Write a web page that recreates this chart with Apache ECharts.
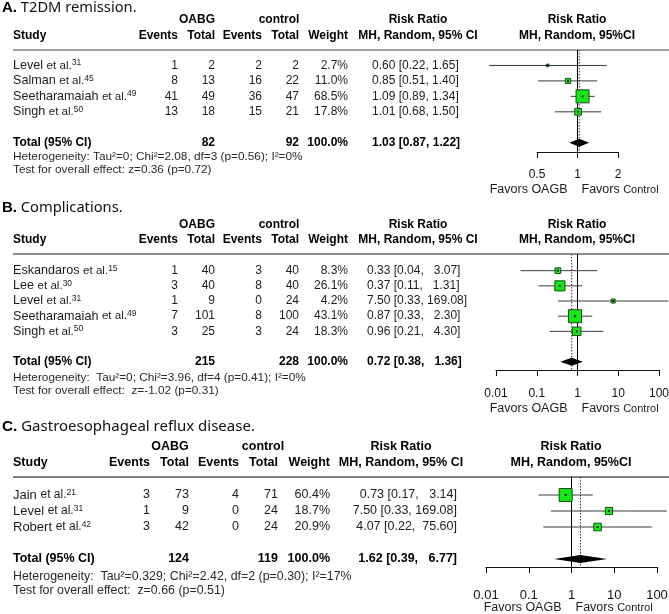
<!DOCTYPE html>
<html><head><meta charset="utf-8">
<script src="https://cdn.jsdelivr.net/npm/echarts@6/dist/echarts.min.js"></script>
<style>html,body{margin:0;padding:0;background:#fff}#c{width:669px;height:614px}</style>
</head><body><div id="c"></div>
<script>
// ---------- Panel A: T2DM remission ----------
const studiesA = ['Level', 'Salman', 'Seetharamaiah', 'Singh'];
const refsA = ['31', '45', '49', '50'];
const eventsOabgA = [1, 8, 41, 13];
const totalOabgA = [2, 13, 49, 18];
const eventsCtrlA = [2, 16, 36, 15];
const totalCtrlA = [2, 22, 47, 21];
const weightA = [2.7, 11.0, 68.5, 17.8];
const rrA = [0.60, 0.85, 1.09, 1.01];
const lowerA = [0.22, 0.51, 0.89, 0.68];
const upperA = [1.65, 1.40, 1.34, 1.50];
const pooledA = [1.03, 0.87, 1.22];
const pooledTotalsA = [82, 92];
const hetA = 'Heterogeneity: Tau²=0; Chi²=2.08, df=3 (p=0.56); I²=0%';
const testA = 'Test for overall effect: z=0.36 (p=0.72)';
const ticksA = [0.5, 1, 2];

// ---------- Panel B: Complications ----------
const studiesB = ['Eskandaros', 'Lee', 'Level', 'Seetharamaiah', 'Singh'];
const refsB = ['15', '30', '31', '49', '50'];
const eventsOabgB = [1, 3, 1, 7, 3];
const totalOabgB = [40, 40, 9, 101, 25];
const eventsCtrlB = [3, 8, 0, 8, 3];
const totalCtrlB = [40, 40, 24, 100, 24];
const weightB = [8.3, 26.1, 4.2, 43.1, 18.3];
const rrB = [0.33, 0.37, 7.50, 0.87, 0.96];
const lowerB = [0.04, 0.11, 0.33, 0.33, 0.21];
const upperB = [3.07, 1.31, 169.08, 2.30, 4.30];
const pooledB = [0.72, 0.38, 1.36];
const pooledTotalsB = [215, 228];
const hetB = 'Heterogeneity:  Tau²=0; Chi²=3.96, df=4 (p=0.41); I²=0%';
const testB = 'Test for overall effect:  z=-1.02 (p=0.31)';
const ticksB = [0.01, 0.1, 1, 10, 100];

// ---------- Panel C: GERD ----------
const studiesC = ['Jain', 'Level', 'Robert'];
const refsC = ['21', '31', '42'];
const eventsOabgC = [3, 1, 3];
const totalOabgC = [73, 9, 42];
const eventsCtrlC = [4, 0, 0];
const totalCtrlC = [71, 24, 24];
const weightC = [60.4, 18.7, 20.9];
const rrC = [0.73, 7.50, 4.07];
const lowerC = [0.17, 0.33, 0.22];
const upperC = [3.14, 169.08, 75.60];
const pooledC = [1.62, 0.39, 6.77];
const pooledTotalsC = [124, 119];
const hetC = 'Heterogeneity:  Tau²=0.329; Chi²=2.42, df=2 (p=0.30); I²=17%';
const testC = 'Test for overall effect:  z=0.66 (p=0.51)';
const ticksC = [0.01, 0.1, 1, 10, 100];

const FONT = "'Liberation Sans', Arial, Helvetica, sans-serif";

const panels = [
  { letter: 'A.', title: ' T2DM remission.', studies: studiesA, refs: refsA, ev1: eventsOabgA, tot1: totalOabgA,
    ev2: eventsCtrlA, tot2: totalCtrlA, w: weightA, rr: rrA, lo: lowerA, hi: upperA, pooled: pooledA,
    totals: pooledTotalsA, het: hetA, test: testA, ticks: ticksA,
    L: { titleY: 8, h1: 20, h2: 36, het: 157, test: 170, fav: 190, sepColor: '#a0a0a0', sepWidth: 2,
      grid: { left: 537, top: 50, width: 81, height: 102 }, yMin: 0, yMax: 6.6, totalRow: 6, logBase: 2,
      x: { ev1: 178, tot1: 215, ev2: 262, tot2: 299, wt: 348, rr: 372, rrAlign: 'left', oabg: 197, ctrl: 279, rrHead: 418, plotHead: 577 },
      fs: 12, nameFs: 12.6, hs: 12, tickFs: 12, labelMargin: 17, hetFs: 11.8, maxSq: 13, titleFs: 15 } },
  { letter: 'B.', title: ' Complications.', studies: studiesB, refs: refsB, ev1: eventsOabgB, tot1: totalOabgB,
    ev2: eventsCtrlB, tot2: totalCtrlB, w: weightB, rr: rrB, lo: lowerB, hi: upperB, pooled: pooledB,
    totals: pooledTotalsB, het: hetB, test: testB, ticks: ticksB,
    L: { titleY: 208, h1: 225, h2: 240, het: 378, test: 391, fav: 409, sepColor: '#666', sepWidth: 1.5,
      grid: { left: 496, top: 254, width: 163, height: 116 }, yMin: -0.1, yMax: 7.55, totalRow: 7, logBase: 10,
      x: { ev1: 178, tot1: 215, ev2: 262, tot2: 299, wt: 348, rr: 367, rrAlign: 'left', oabg: 197, ctrl: 279, rrHead: 418, plotHead: 577 },
      fs: 12, nameFs: 12.6, hs: 12, tickFs: 12, labelMargin: 18, hetFs: 11.8, maxSq: 13, titleFs: 15 } },
  { letter: 'C.', title: ' Gastroesophageal reflux disease.', studies: studiesC, refs: refsC, ev1: eventsOabgC, tot1: totalOabgC,
    ev2: eventsCtrlC, tot2: totalCtrlC, w: weightC, rr: rrC, lo: lowerC, hi: upperC, pooled: pooledC,
    totals: pooledTotalsC, het: hetC, test: testC, ticks: ticksC,
    L: { titleY: 427, h1: 447, h2: 463, het: 577, test: 591, fav: 608, sepColor: '#555', sepWidth: 1.5,
      grid: { left: 486, top: 477, width: 171, height: 90 }, yMin: -0.125, yMax: 5.5, totalRow: 5, logBase: 10,
      x: { ev1: 150, tot1: 189, ev2: 239, tot2: 278, wt: 330, rr: 457, rrAlign: 'right', oabg: 170, ctrl: 263, rrHead: 401, plotHead: 571 },
      fs: 12.5, nameFs: 13, hs: 12.5, tickFs: 13, labelMargin: 22, hetFs: 12.4, maxSq: 13, titleFs: 15.3 } }
];

function fmtNum(v) { return String(parseFloat(Number(v).toPrecision(6))); }

function renderStudy(params, api) {
  const lo = api.value(0), hi = api.value(1), row = api.value(2), est = api.value(3), s = api.value(4);
  const p1 = api.coord([lo, row]), p2 = api.coord([hi, row]), pc = api.coord([est, row]);
  return { type: 'group', children: [
    { type: 'line', shape: { x1: p1[0], y1: p1[1], x2: p2[0], y2: p2[1] }, style: { stroke: '#3a3a3a', lineWidth: 1 } },
    { type: 'rect', shape: { x: pc[0] - s / 2, y: pc[1] - s / 2, width: s, height: s }, style: { fill: '#12e812', stroke: '#1f4a1f', lineWidth: 1 } },
    { type: 'rect', shape: { x: pc[0] - 1, y: pc[1] - 1, width: 2, height: 2 }, style: { fill: '#1a1a1a' } }
  ] };
}

function makeDiamondRenderer(yMin, yMax) {
  return function (params, api) {
    const lo = api.value(0), hi = api.value(1), row = api.value(2), est = api.value(3);
    const pl = api.coord([lo, row]), ph = api.coord([hi, row]), pe = api.coord([est, row]);
    const n1 = api.coord([1, yMin]), n2 = api.coord([1, yMax]);
    const d1 = api.coord([est, yMin]), d2 = api.coord([est, yMax]);
    return { type: 'group', children: [
      { type: 'line', shape: { x1: d1[0], y1: d1[1], x2: d2[0], y2: d2[1] }, style: { stroke: '#333', lineWidth: 1, lineDash: [1.5, 1.5] } },
      { type: 'line', shape: { x1: n1[0], y1: n1[1], x2: n2[0], y2: n2[1] }, style: { stroke: '#000', lineWidth: 1 } },
      { type: 'polygon', shape: { points: [[pl[0], pl[1]], [pe[0], pe[1] - 4], [ph[0], ph[1]], [pe[0], pe[1] + 4]] }, style: { fill: '#000' } }
    ] };
  };
}

const series = [];
panels.forEach((p, k) => {
  const wmax = Math.max(...p.w);
  const rows = p.studies.map((s, i) => [p.lo[i], p.hi[i], i + 1, p.rr[i], p.L.maxSq * Math.sqrt(p.w[i] / wmax)]);
  series.push({ type: 'custom', xAxisIndex: k, yAxisIndex: k, clip: false, z: 4, silent: true,
    renderItem: makeDiamondRenderer(p.L.yMin, p.L.yMax),
    data: [[p.pooled[1], p.pooled[2], p.L.totalRow, p.pooled[0]]], encode: { x: [0, 1, 3], y: 2 } });
  series.push({ type: 'custom', xAxisIndex: k, yAxisIndex: k, clip: false, z: 5, silent: true,
    renderItem: renderStudy, data: rows, encode: { x: [0, 1, 3], y: 2 } });
});

const option = {
  animation: false,
  backgroundColor: '#fff',
  grid: panels.map(p => ({ left: p.L.grid.left, top: p.L.grid.top, width: p.L.grid.width, height: p.L.grid.height,
    containLabel: false, outerBoundsMode: 'none' })),
  xAxis: panels.map((p, k) => ({
    type: 'log', gridIndex: k, logBase: p.L.logBase, position: 'bottom',
    min: p.ticks[0], max: p.ticks[p.ticks.length - 1],
    axisLine: { show: true, onZero: false, lineStyle: { color: '#111', width: 1 } },
    axisTick: { show: true, length: 6, inside: false, lineStyle: { color: '#111', width: 1 } },
    axisLabel: { show: true, fontSize: p.L.tickFs, fontFamily: FONT, color: '#111', margin: p.L.labelMargin,
      showMinLabel: true, showMaxLabel: true, hideOverlap: false, formatter: v => fmtNum(v) },
    splitLine: { show: false }, minorTick: { show: false }, minorSplitLine: { show: false }
  })),
  yAxis: panels.map((p, k) => ({ type: 'value', gridIndex: k, min: p.L.yMin, max: p.L.yMax, inverse: true, show: false,
    splitLine: { show: false } })),
  series: series
};

const chart = echarts.init(document.getElementById('c'), null, { renderer: 'canvas' });
chart.setOption(option);

function rrText(est, lo, hi, width) {
  return est.toFixed(2) + ' [' + lo.toFixed(2) + ', ' + hi.toFixed(2).padStart(width, ' ') + ']';
}

function buildGraphics() {
  const g = [];
  panels.forEach((p, k) => {
    const L = p.L, X = L.x;
    const rowY = r => chart.convertToPixel({ yAxisIndex: k }, r);
    const base = { fontFamily: FONT, fontSize: L.fs, fill: '#1c1c1c' };
    const B = { fontWeight: 'bold', fontSize: L.hs, fill: '#000' };
    const T = (x, y, text, align, extra) => g.push({ type: 'text', x: x, y: y, silent: true,
      style: Object.assign({}, base, { text: text, align: align || 'left', verticalAlign: 'middle' }, extra || {}) });

    // title
    g.push({ type: 'text', x: 2, y: L.titleY, silent: true, style: {
      text: '{b|' + p.letter + '}{r|' + p.title + '}', verticalAlign: 'middle', align: 'left',
      rich: { b: { fontFamily: FONT, fontWeight: 'bold', fontSize: L.titleFs, fill: '#000' },
              r: { fontFamily: "'Noto Sans', 'Open Sans', sans-serif", fontSize: L.titleFs - 0.3, fill: '#111' } } } });

    // headers
    T(X.oabg, L.h1, 'OABG', 'center', B);
    T(X.ctrl, L.h1, 'control', 'center', B);
    T(X.rrHead, L.h1, 'Risk Ratio', 'center', B);
    T(X.plotHead, L.h1, 'Risk Ratio', 'center', B);
    T(13, L.h2, 'Study', 'left', B);
    T(X.ev1, L.h2, 'Events', 'right', B);
    T(X.tot1, L.h2, 'Total', 'right', B);
    T(X.ev2, L.h2, 'Events', 'right', B);
    T(X.tot2, L.h2, 'Total', 'right', B);
    T(X.wt, L.h2, 'Weight', 'right', B);
    T(X.rrHead, L.h2, 'MH, Random, 95% CI', 'center', B);
    T(X.plotHead, L.h2, 'MH, Random, 95%CI', 'center', B);

    // separator
    const sy = rowY(L.yMin);
    g.push({ type: 'line', silent: true, shape: { x1: 13, y1: sy, x2: 669, y2: sy },
      style: { stroke: L.sepColor, lineWidth: L.sepWidth } });

    const width = Math.max(...p.hi.map(v => v.toFixed(2).length), p.pooled[2].toFixed(2).length);
    const rrX = X.rr, rrAlign = X.rrAlign;

    p.studies.forEach((s, i) => {
      const y = rowY(i + 1);
      g.push({ type: 'text', x: 13, y: y, silent: true, style: {
        text: '{n|' + s + ' }{e|et al.}{s|' + p.refs[i] + '}', align: 'left', verticalAlign: 'middle',
        rich: { n: { fontFamily: FONT, fontSize: L.nameFs, fill: '#1c1c1c', lineHeight: 14 },
                e: { fontFamily: FONT, fontSize: L.nameFs - 1, fill: '#1c1c1c', lineHeight: 14 },
                s: { fontFamily: FONT, fontSize: 8.5, fill: '#1c1c1c', verticalAlign: 'top', lineHeight: 10 } } } });
      T(X.ev1, y, String(p.ev1[i]), 'right');
      T(X.tot1, y, String(p.tot1[i]), 'right');
      T(X.ev2, y, String(p.ev2[i]), 'right');
      T(X.tot2, y, String(p.tot2[i]), 'right');
      T(X.wt, y, p.w[i].toFixed(1) + '%', 'right');
      T(rrX, y, rrText(p.rr[i], p.lo[i], p.hi[i], width), rrAlign);
    });

    const ty = rowY(L.totalRow);
    T(13, ty, 'Total (95% CI)', 'left', B);
    T(X.tot1, ty, String(p.totals[0]), 'right', B);
    T(X.tot2, ty, String(p.totals[1]), 'right', B);
    T(X.wt, ty, '100.0%', 'right', B);
    T(rrX, ty, rrText(p.pooled[0], p.pooled[1], p.pooled[2], width), rrAlign, B);

    T(13, L.het, p.het, 'left', { fontSize: L.hetFs, fill: '#2a2a2a' });
    T(13, L.test, p.test, 'left', { fontSize: L.hetFs, fill: '#2a2a2a' });

    const x1 = chart.convertToPixel({ xAxisIndex: k }, 1);
    g.push({ type: 'text', x: x1 - 10, y: L.fav, silent: true, style: {
      text: 'Favors OAGB', align: 'right', verticalAlign: 'middle', fontFamily: FONT, fontSize: 12.5, fill: '#1c1c1c' } });
    g.push({ type: 'text', x: x1 + 4, y: L.fav, silent: true, style: {
      text: '{a|Favors }{b|Control}', align: 'left', verticalAlign: 'middle',
      rich: { a: { fontFamily: FONT, fontSize: 12.5, fill: '#1c1c1c' }, b: { fontFamily: FONT, fontSize: 11, fill: '#1c1c1c' } } } });
  });
  return g;
}

chart.setOption({ graphic: buildGraphics() });
</script>
</body></html>
